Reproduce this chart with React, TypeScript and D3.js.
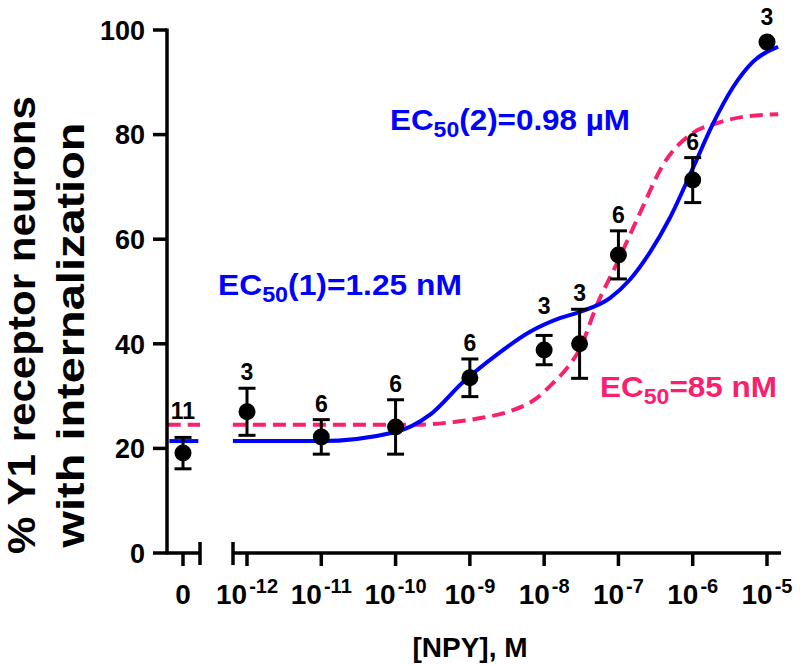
import React from "react";
import * as d3 from "d3";

// ---- data ----
const concentrations = [0, 1e-12, 1e-11, 1e-10, 1e-9, 1e-8, 3e-8, 1e-7, 1e-6, 1e-5];
const meanPct = [19.1, 27.0, 22.2, 24.1, 33.5, 38.8, 40.0, 57.0, 71.3, 97.7];
const semPct = [3.0, 4.5, 3.3, 5.2, 3.6, 2.8, 6.6, 4.6, 4.3, 0];
const nCells = [11, 3, 6, 6, 6, 3, 3, 6, 6, 3];

// biphasic fit (blue), log10[NPY] vs %
const biphasicLogX = [-12.19, -11.02, -10.01, -9.54, -9.09, -8.64, -8.19, -7.79, -7.52, -7.11, -6.85, -6.58, -6.31, -6.0, -5.73, -5.46, -5.19, -4.85];
const biphasicY = [21.4, 21.4, 23.1, 26.4, 32.7, 37.9, 42.3, 44.9, 46.1, 48.8, 52.2, 57.4, 64.0, 73.5, 82.0, 89.0, 93.9, 96.8];

// monophasic fit (pink, dashed)
const monoLogX = [-12.19, -9.77, -9.31, -8.86, -8.42, -8.1, -7.88, -7.69, -7.52, -7.29, -7.02, -6.71, -6.4, -6.0, -5.67, -5.32, -4.85];
const monoY = [24.5, 24.5, 24.9, 25.8, 27.3, 29.6, 32.5, 35.4, 39.0, 47.4, 55.4, 65.0, 74.2, 80.3, 82.2, 83.4, 83.9];

const yTicks = [0, 20, 40, 60, 80, 100];
const xTickExponents = [-12, -11, -10, -9, -8, -7, -6, -5];
const zeroTickLabel = "0";

// label lifts (px) for n labels placed clear of the curves
const nLabelLift = [10, 0, 0, 0, 0, 13, 0, 0, 0, 0];

const BLUE = "#0000ff";
const PINK = "#f8206f";
const FONT = "'Liberation Sans', Arial, Helvetica, sans-serif";

export default function App() {
  const W = 800, H = 665;
  const y = d3.scaleLinear().domain([0, 100]).range([553, 30]);
  const xLog = d3.scaleLog().domain([1e-12, 1e-5]).range([247, 767]);
  const xZero = d3.scaleLinear().domain([-1, 1]).range([166, 200]);
  const seg2Start = 233, seg2End = 781;
  const axisX = 167;
  const axisY = y(0);

  const xOf = (c: number) => (c === 0 ? xZero(0) : xLog(c));

  const blueLine = d3
    .line<number>()
    .x((_, i) => xLog(Math.pow(10, biphasicLogX[i])))
    .y((d) => y(d))
    .curve(d3.curveMonotoneX)(biphasicY) as string;
  const pinkLine = d3
    .line<number>()
    .x((_, i) => xLog(Math.pow(10, monoLogX[i])))
    .y((d) => y(d))
    .curve(d3.curveMonotoneX)(monoY) as string;

  const axisStroke = 3.5;

  return (
    <svg
      width={W}
      height={H}
      style={{ position: "absolute", left: 0, top: 0, background: "#fff" }}
      fontFamily={FONT}
      fontWeight="bold"
    >
      <rect x={0} y={0} width={W} height={H} fill="#fff" />
      {/* zero-section constant lines */}
      <line x1={xZero(-0.9)} x2={xZero(1)} y1={y(monoY[0])} y2={y(monoY[0])} stroke={PINK} strokeWidth={4} strokeDasharray="13 7" />
      <line x1={xZero(-0.8)} x2={xZero(0.9)} y1={y(biphasicY[0])} y2={y(biphasicY[0])} stroke={BLUE} strokeWidth={4} />
      {/* curves */}
      <path d={pinkLine} fill="none" stroke={PINK} strokeWidth={4} strokeDasharray="13 7" />
      <path d={blueLine} fill="none" stroke={BLUE} strokeWidth={4} />

      {/* y axis */}
      <line x1={axisX} x2={axisX} y1={y(100) - 1.5} y2={axisY + 1.5} stroke="#000" strokeWidth={axisStroke} />
      {yTicks.map((t) => (
        <g key={t}>
          <line x1={axisX - 14} x2={axisX} y1={y(t)} y2={y(t)} stroke="#000" strokeWidth={axisStroke} />
          <text x={axisX - 22} y={y(t)} dy="0.36em" textAnchor="end" fontSize={27}>
            {t}
          </text>
        </g>
      ))}

      {/* x axis segment 1 (zero) */}
      <line x1={axisX} x2={xZero(1)} y1={axisY} y2={axisY} stroke="#000" strokeWidth={axisStroke} />
      <line x1={xZero(1)} x2={xZero(1)} y1={axisY - 11} y2={axisY + 12} stroke="#000" strokeWidth={axisStroke} />
      <line x1={xZero(0)} x2={xZero(0)} y1={axisY} y2={axisY + 13} stroke="#000" strokeWidth={axisStroke} />
      <text x={xZero(0)} y={604} textAnchor="middle" fontSize={28}>
        {zeroTickLabel}
      </text>

      {/* x axis segment 2 (log) */}
      <line x1={seg2Start} x2={seg2End} y1={axisY} y2={axisY} stroke="#000" strokeWidth={axisStroke} />
      <line x1={seg2Start} x2={seg2Start} y1={axisY - 11} y2={axisY + 12} stroke="#000" strokeWidth={axisStroke} />
      {xTickExponents.map((e) => {
        const px = xLog(Math.pow(10, e));
        return (
          <g key={e}>
            <line x1={px} x2={px} y1={axisY} y2={axisY + 13} stroke="#000" strokeWidth={axisStroke} />
            <text x={px} y={604} textAnchor="middle" fontSize={28}>
              10
              <tspan fontSize={20} dx={2} dy={-11}>
                {"-" + Math.abs(e)}
              </tspan>
            </text>
          </g>
        );
      })}

      {/* axis titles */}
      <text x={470} y={657} textAnchor="middle" fontSize={28}>
        [NPY], M
      </text>
      <text
        transform="translate(35,325) rotate(-90)"
        textAnchor="middle"
        fontSize={39}
        textLength={458}
        lengthAdjust="spacingAndGlyphs"
      >
        % Y1 receptor neurons
      </text>
      <text
        transform="translate(84,335) rotate(-90)"
        textAnchor="middle"
        fontSize={39}
        textLength={425}
        lengthAdjust="spacingAndGlyphs"
      >
        with internalization
      </text>

      {/* data points */}
      {concentrations.map((c, i) => {
        const px = xOf(c);
        const top = y(meanPct[i] + semPct[i]);
        const bot = y(meanPct[i] - semPct[i]);
        const labelBase = (semPct[i] > 0 ? top - 8 : y(meanPct[i]) - 17) - nLabelLift[i];
        return (
          <g key={i}>
            {semPct[i] > 0 && (
              <g stroke="#000" strokeWidth={3}>
                <line x1={px} x2={px} y1={top} y2={bot} />
                <line x1={px - 8.5} x2={px + 8.5} y1={top} y2={top} />
                <line x1={px - 8.5} x2={px + 8.5} y1={bot} y2={bot} />
              </g>
            )}
            <circle cx={px} cy={y(meanPct[i])} r={8.5} fill="#000" />
            <text x={px} y={labelBase} textAnchor="middle" fontSize={23}>
              {nCells[i]}
            </text>
          </g>
        );
      })}

      {/* EC50 annotations */}
      <text x={218} y={295} fontSize={30} fill={BLUE} textLength={244} lengthAdjust="spacingAndGlyphs">
        EC<tspan fontSize={22} dy={7}>50</tspan>
        <tspan dy={-7}>(1)=1.25 nM</tspan>
      </text>
      <text x={390} y={130} fontSize={30} fill={BLUE} textLength={240} lengthAdjust="spacingAndGlyphs">
        EC<tspan fontSize={22} dy={7}>50</tspan>
        <tspan dy={-7}>(2)=0.98 µM</tspan>
      </text>
      <text x={600} y={397} fontSize={30} fill={PINK} textLength={177} lengthAdjust="spacingAndGlyphs">
        EC<tspan fontSize={22} dy={7}>50</tspan>
        <tspan dy={-7}>=85 nM</tspan>
      </text>
    </svg>
  );
}
